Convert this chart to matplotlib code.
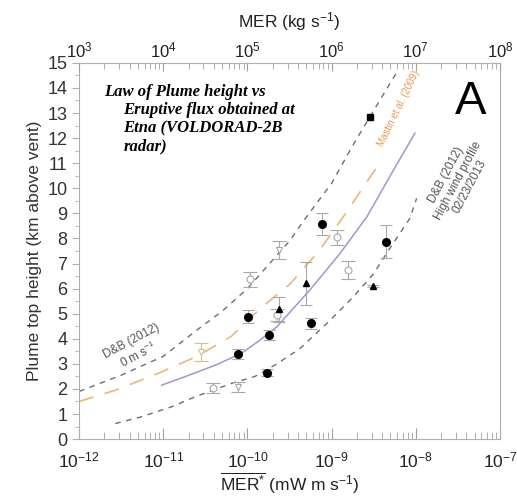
import numpy as np
import matplotlib
matplotlib.use("Agg")
import matplotlib.pyplot as plt

plt.rcParams["font.family"] = ["Liberation Sans", "DejaVu Sans"]
plt.rcParams["mathtext.fontset"] = "custom"
plt.rcParams["mathtext.rm"] = "Liberation Sans"
plt.rcParams["mathtext.it"] = "Liberation Sans:italic"

# curves: log10(MER*) and height (km)
db0_log = [-12.0, -11.5, -11.0, -10.6, -10.3, -10.0, -9.5, -9.3, -9.0, -8.75, -8.5, -8.23]
db0_h = [1.9, 2.55, 3.3, 4.35, 5.1, 6.0, 7.9, 8.85, 10.2, 11.7, 13.1, 14.6]

dbw_log = [-11.57, -11.26, -10.9, -10.62, -10.19, -9.91, -9.65, -9.38, -9.06, -8.74, -8.5, -8.31, -8.07, -7.99]
dbw_h = [0.62, 0.89, 1.29, 1.69, 2.22, 2.5, 3.0, 3.6, 4.6, 5.68, 6.6, 7.6, 8.8, 9.6]

fit_log = [-11.02, -10.74, -10.38, -10.07, -9.85, -9.65, -9.26, -8.9, -8.58, -8.31, -8.01]
fit_h = [2.15, 2.49, 2.95, 3.42, 3.95, 4.48, 5.94, 7.4, 8.87, 10.46, 12.2]

mastin_log = [-12.0, -11.57, -11.06, -10.6, -10.19, -9.85, -9.49, -9.14, -8.86, -8.62, -8.45]
mastin_h = [1.5, 1.95, 2.62, 3.3, 4.1, 5.2, 6.2, 7.54, 8.87, 10.06, 10.9]

# open (grey) markers with error bars
open_c_x = [3.89e-11, 1.07e-10, 2.24e-10, 1.15e-9, 1.58e-9]
open_c_y = [2.02, 6.37, 4.95, 8.05, 6.74]
open_c_err = [0.2, 0.3, 0.25, 0.3, 0.36]
open_t_x = [7.76e-11, 2.34e-10]
open_t_y = [2.09, 7.54]
open_t_err = [0.2, 0.35]
olive_x = [2.82e-11]
olive_y = [3.48]
olive_err = [0.35]

# filled markers
circ_x = [7.67e-11, 1.02e-10, 1.78e-10, 1.70e-10, 5.69e-10, 7.59e-10, 4.47e-9]
circ_y = [3.39, 4.88, 4.15, 2.65, 4.61, 8.58, 7.87]
circ_err = [0.2, 0.25, 0.2, 0.15, 0.2, 0.44, 0.65]
tri_x = [2.34e-10, 5.01e-10, 3.13e-9]
tri_y = [5.17, 6.21, 6.10]
tri_err = [0.5, 0.87, 0.05]
sq_x = [2.88e-9]
sq_y = [12.86]

fig = plt.figure(figsize=(5.17, 4.99), dpi=100)
ax = fig.add_axes([0.153, 0.12, 0.814, 0.754])

grey = "#6e6e6e"
ax.plot(10 ** np.array(db0_log), db0_h, color=grey, lw=1, dashes=(4, 4))
ax.plot(10 ** np.array(dbw_log), dbw_h, color=grey, lw=1, dashes=(4, 4))
ax.plot(10 ** np.array(mastin_log), mastin_h, color="#e8b878", lw=1.2, dashes=(9, 7))
ax.plot(10 ** np.array(fit_log), fit_h, color="#a894cc", lw=1.1)

lg = "#a8a8a8"
ax.errorbar(open_c_x, open_c_y, yerr=open_c_err, fmt="o", mfc="white", mec=lg,
            ecolor=lg, ms=5, mew=0.8, elinewidth=0.8, capsize=5, capthick=0.8)
ax.errorbar(open_t_x, open_t_y, yerr=open_t_err, fmt="v", mfc="white", mec=lg,
            ecolor=lg, ms=5, mew=0.8, elinewidth=0.8, capsize=5, capthick=0.8)
ax.errorbar(olive_x, olive_y, yerr=olive_err, fmt="v", mfc="white", mec="#c8c890",
            ecolor="#c8c890", ms=5, mew=0.8, elinewidth=0.8, capsize=5, capthick=0.8)

ax.errorbar(circ_x, circ_y, yerr=circ_err, fmt="o", color="black", ms=5.5,
            ecolor=lg, elinewidth=0.8, capsize=4, capthick=0.8)
ax.errorbar(tri_x, tri_y, yerr=tri_err, fmt="^", color="black", ms=5,
            ecolor=lg, elinewidth=0.8, capsize=4, capthick=0.8)
ax.plot(sq_x, sq_y, "s", color="black", ms=5)

ax.set_xscale("log")
ax.set_xlim(1e-12, 1e-7)
ax.set_ylim(0, 15)
ax.set_yticks(range(0, 16))
ax.set_yticks(np.arange(0.5, 15, 1), minor=True)
ax.set_xticks([1e-12, 1e-11, 1e-10, 1e-9, 1e-8, 1e-7])

for s in ax.spines.values():
    s.set_color("#b0b0b0")
    s.set_linewidth(0.8)

ax.tick_params(axis="x", which="both", direction="in", color="#a0a0a0",
               labelsize=12.5, pad=8, labelcolor="#222222")
ax.tick_params(axis="x", which="major", length=8)
ax.tick_params(axis="x", which="minor", length=5)
ax.tick_params(axis="y", which="both", direction="out", color="#b0b0b0",
               labelsize=13, labelcolor="#333333")
ax.tick_params(axis="y", which="major", length=5)
ax.tick_params(axis="y", which="minor", length=3)

ax.set_ylabel("Plume top height (km above vent)", fontsize=12.5, color="#333333", labelpad=4)
ax.set_xlabel(r"$\overline{\mathrm{MER}^{*}}$ (mW m s$^{-1}$)", fontsize=12.5,
              color="#222222", labelpad=0)

top = ax.twiny()
top.set_xscale("log")
top.set_xlim(1e3, 1e8)
top.set_xticks([1e3, 1e4, 1e5, 1e6, 1e7, 1e8])
top.tick_params(axis="x", which="both", direction="in", color="#a0a0a0",
                labelsize=12, labelcolor="#222222", pad=2)
top.tick_params(axis="x", which="major", length=6)
top.tick_params(axis="x", which="minor", length=4)
top.set_xlabel("MER (kg s$^{-1}$)", fontsize=12.5, color="#222222", labelpad=9)
for s in top.spines.values():
    s.set_visible(False)

note_lines = ["Law of Plume height vs", "Eruptive flux obtained at",
              "Etna (VOLDORAD-2B", "radar)"]
for i, line in enumerate(note_lines):
    ax.text(0.06 if i == 0 else 0.105, 0.945 - i * 0.0485, line,
            transform=ax.transAxes, ha="left", va="top", fontsize=12,
            family="Liberation Serif", style="italic", weight="bold")

ax.text(0.93, 0.895, "A", transform=ax.transAxes, ha="center", va="center",
        fontsize=34, color="black")

ax.text(10 ** -11.33, 3.6, "D&B (2012)\n0 m s$^{-1}$", rotation=28, ha="center",
        va="center", fontsize=8.5, color="#555555", linespacing=1.1)
ax.text(10 ** -7.5, 10.3, "D&B (2012)\nHigh wind profile\n02/23/2013", rotation=62,
        ha="center", va="center", fontsize=8.5, color="#555555", linespacing=1.1)
ax.text(10 ** -8.2, 13.2, "Mastin et al. (2009)", rotation=64, ha="center",
        va="center", fontsize=7, color="#e89a50")

fig.savefig("out.png", dpi=100)
